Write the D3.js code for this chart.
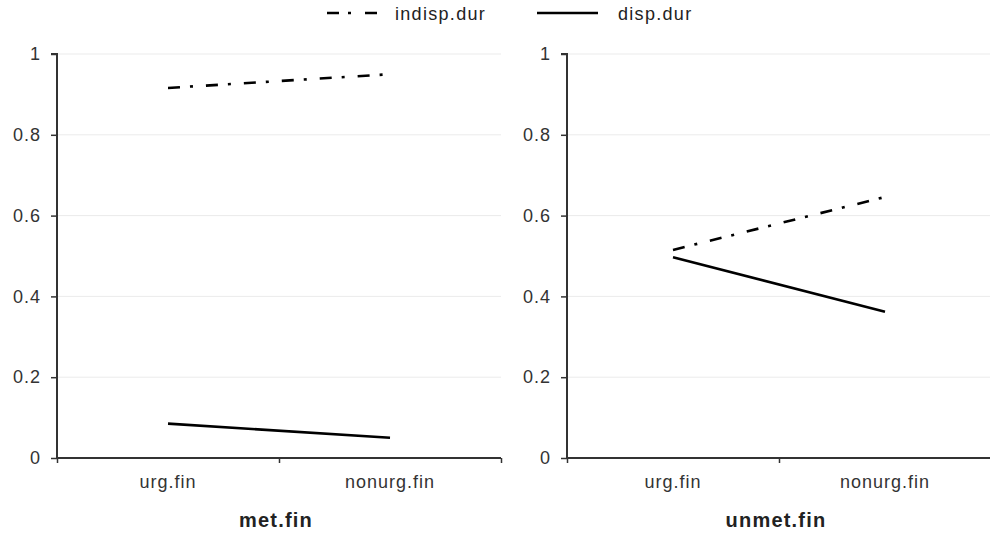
<!DOCTYPE html>
<html lang="en">
    <head>
        <meta charset="UTF-8">
        <script src="https://d3js.org/d3.v7.min.js"></script>
        <title>met.fin / unmet.fin</title>
        <style>
            body { margin: 0; background: #fff; }
            text { font-family: "Liberation Sans", Arial, sans-serif; fill: #333; }
        </style>
    </head>
    <body>
        <div id="container"></div>
    </body>
    <script>
        // data
        const panels = ['met.fin', 'unmet.fin'];
        const categories = ['urg.fin', 'nonurg.fin'];
        const seriesNames = ['indisp.dur', 'disp.dur'];
        const indispDur = [[0.916, 0.950], [0.515, 0.646]];
        const dispDur = [[0.085, 0.050], [0.497, 0.362]];
        const yTicks = [0, 0.2, 0.4, 0.6, 0.8, 1];

        const width = 990;
        const height = 535;
        const panelBox = [
            {left: 57, right: 501},
            {left: 567, right: 991}
        ];
        const plotTop = 54;
        const plotBottom = 458;
        const dashDot = '12,10,3,13';
        const tickFont = '18px';

        const svg = d3.select('#container')
            .append('svg')
            .attr('width', width)
            .attr('height', height);

        const y = d3.scaleLinear().domain([0, 1]).range([plotBottom, plotTop]);

        panels.forEach(function(name, i) {
            const box = panelBox[i];
            const g = svg.append('g');

            const x = d3.scalePoint()
                .domain(categories)
                .range([box.left, box.right])
                .padding(0.5);
            const xEdges = d3.scaleLinear().domain([0, 2]).range([box.left, box.right]);

            // gridlines
            g.append('g')
                .selectAll('line')
                .data(yTicks.filter(d => d > 0))
                .enter()
                .append('line')
                .attr('x1', box.left)
                .attr('x2', box.right)
                .attr('y1', d => y(d))
                .attr('y2', d => y(d))
                .style('stroke', '#ebebeb')
                .style('stroke-width', 1);

            // y axis
            const yAxis = g.append('g')
                .attr('transform', `translate(${box.left},0)`)
                .call(d3.axisLeft(y).tickValues(yTicks).tickSize(6).tickPadding(10)
                    .tickFormat(d => d3.format('~g')(d)));

            // x axis (ticks at band edges)
            const xAxis = g.append('g')
                .attr('transform', `translate(0,${plotBottom})`)
                .call(d3.axisBottom(xEdges).tickValues([0, 1, 2]).tickSize(5).tickFormat(''));

            [yAxis, xAxis].forEach(function(a) {
                a.select('.domain').style('stroke', '#333').style('stroke-width', 2);
                a.selectAll('.tick line').style('stroke', '#333').style('stroke-width', 1.5);
                a.selectAll('text').style('font-size', tickFont).style('fill', '#333')
                    .style('letter-spacing', '1px')
                    .style('font-family', '"Liberation Sans", Arial, sans-serif');
            });
            yAxis.select('.domain').attr('d', `M-6,${plotTop}H0V${plotBottom}`);
            xAxis.select('.domain').attr('d', `M${box.left},0H${box.right}`);

            // category labels
            g.append('g')
                .selectAll('text')
                .data(categories)
                .enter()
                .append('text')
                .attr('x', d => x(d))
                .attr('y', plotBottom + 30)
                .attr('text-anchor', 'middle')
                .style('font-size', tickFont)
                .style('letter-spacing', '1px')
                .text(d => d);

            // panel title
            g.append('text')
                .attr('x', (box.left + box.right) / 2 - 3)
                .attr('y', 527)
                .attr('text-anchor', 'middle')
                .style('font-size', '20px')
                .style('font-weight', 'bold')
                .style('letter-spacing', '1.2px')
                .style('fill', '#222')
                .text(name);

            const line = d3.line()
                .x((d, j) => x(categories[j]))
                .y(d => y(d));

            g.append('path')
                .datum(indispDur[i])
                .attr('d', line)
                .style('fill', 'none')
                .style('stroke', '#000')
                .style('stroke-width', 2.6)
                .style('stroke-dasharray', dashDot);

            g.append('path')
                .datum(dispDur[i])
                .attr('d', line)
                .style('fill', 'none')
                .style('stroke', '#000')
                .style('stroke-width', 2.6);
        });

        // legend
        const legend = svg.append('g');
        const legendItems = [
            {name: seriesNames[0], x1: 327, x2: 377, tx: 395, dash: '12,9,3,14'},
            {name: seriesNames[1], x1: 537, x2: 598, tx: 618, dash: null}
        ];
        legendItems.forEach(function(d) {
            legend.append('line')
                .attr('x1', d.x1)
                .attr('x2', d.x2)
                .attr('y1', 13)
                .attr('y2', 13)
                .style('stroke', '#000')
                .style('stroke-width', 2.6)
                .style('stroke-dasharray', d.dash);
            legend.append('text')
                .attr('x', d.tx)
                .attr('y', 20)
                .style('font-size', '18px')
                .style('letter-spacing', '1.3px')
                .style('fill', '#222')
                .text(d.name);
        });
    </script>
</html>
